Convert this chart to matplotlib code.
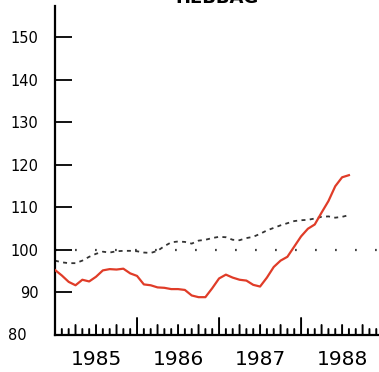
import numpy as np
import matplotlib
matplotlib.use("Agg")
import matplotlib.pyplot as plt
from matplotlib.ticker import FixedLocator

# monthly index values, Jan 1985 .. Aug 1988
price = [95.3, 94.0, 92.5, 91.7, 93.0, 92.6, 93.7, 95.2, 95.5, 95.4, 95.6, 94.5,
         93.9, 91.9, 91.7, 91.2, 91.1, 90.8, 90.8, 90.6, 89.3, 88.9, 88.9, 91.0,
         93.3, 94.2, 93.5, 93.0, 92.8, 91.8, 91.4, 93.5, 96.0, 97.5, 98.4, 100.8,
         103.2, 105.0, 106.0, 108.8, 111.5, 115.0, 117.1, 117.6]
market = [97.5, 97.1, 96.9, 96.9, 97.5, 98.4, 99.1, 99.6, 99.4, 99.7, 99.8, 99.8,
          99.7, 99.4, 99.3, 99.8, 100.9, 101.8, 102.0, 101.9, 101.5, 102.2, 102.4, 102.8,
          103.1, 103.0, 102.4, 102.3, 102.8, 103.1, 103.8, 104.6, 105.2, 105.8, 106.3, 106.8,
          107.0, 107.1, 107.4, 107.8, 107.9, 107.6, 107.8, 108.2]
years = [1985, 1986, 1987, 1988]
yticks = [90, 100, 110, 120, 130, 140, 150]
title = "HEBBAG"

t = 1985 + np.arange(len(price)) / 12

fig = plt.figure(figsize=(3.79, 3.72), dpi=100)
ax = fig.add_axes([55 / 379, 37 / 372, 324 / 379, 329 / 372])

ax.axhline(100, color="#444444", lw=1.6, linestyle=(0, (0.8, 8.2)), zorder=1)
ax.plot(t, market, color="#333333", lw=1.3, linestyle=(0, (2.2, 2.4)), zorder=2)
ax.plot(t, price, color="#e03c28", lw=1.6, zorder=3)

ax.set_xlim(1985, 1988.95)
ax.set_ylim(80, 157.4)

for s in ("top", "right"):
    ax.spines[s].set_visible(False)
for s in ("left", "bottom"):
    ax.spines[s].set_linewidth(1.6)

# y axis: long inward ticks, labels well left of the spine
ax.set_yticks(yticks)
ax.set_yticklabels([str(v) for v in yticks])
ax.yaxis.set_tick_params(direction="in", length=12, width=1.3, pad=12,
                         labelsize=10.5, colors="black")
ax.text(-0.088, 0, "80", transform=ax.transAxes, ha="right", va="center",
        fontsize=10.5)

# x axis: year, quarter and month ticks pointing up, year labels centred
ax.set_xticks([y + 0.5 for y in years])
ax.set_xticklabels([str(y) for y in years])
ax.xaxis.set_tick_params(length=0, pad=11, labelsize=14.5)
ax.xaxis.set_minor_locator(FixedLocator([]))
months = 1985 + np.arange(1, 48) / 12
for m in months:
    k = int(round((m - 1985) * 12))
    if k % 12 == 0:
        h = 17
    elif k % 3 == 0:
        h = 10
    else:
        h = 6
    ax.annotate("", xy=(m, 80), xycoords="data", xytext=(0, h),
                textcoords="offset pixels",
                arrowprops=dict(arrowstyle="-", lw=1.4, color="black",
                                shrinkA=0, shrinkB=0))

fig.text(0.573, 1 - 3 / 372, title, ha="center", va="baseline",
         fontsize=13, fontweight="bold")

fig.savefig("out.png", dpi=100)
